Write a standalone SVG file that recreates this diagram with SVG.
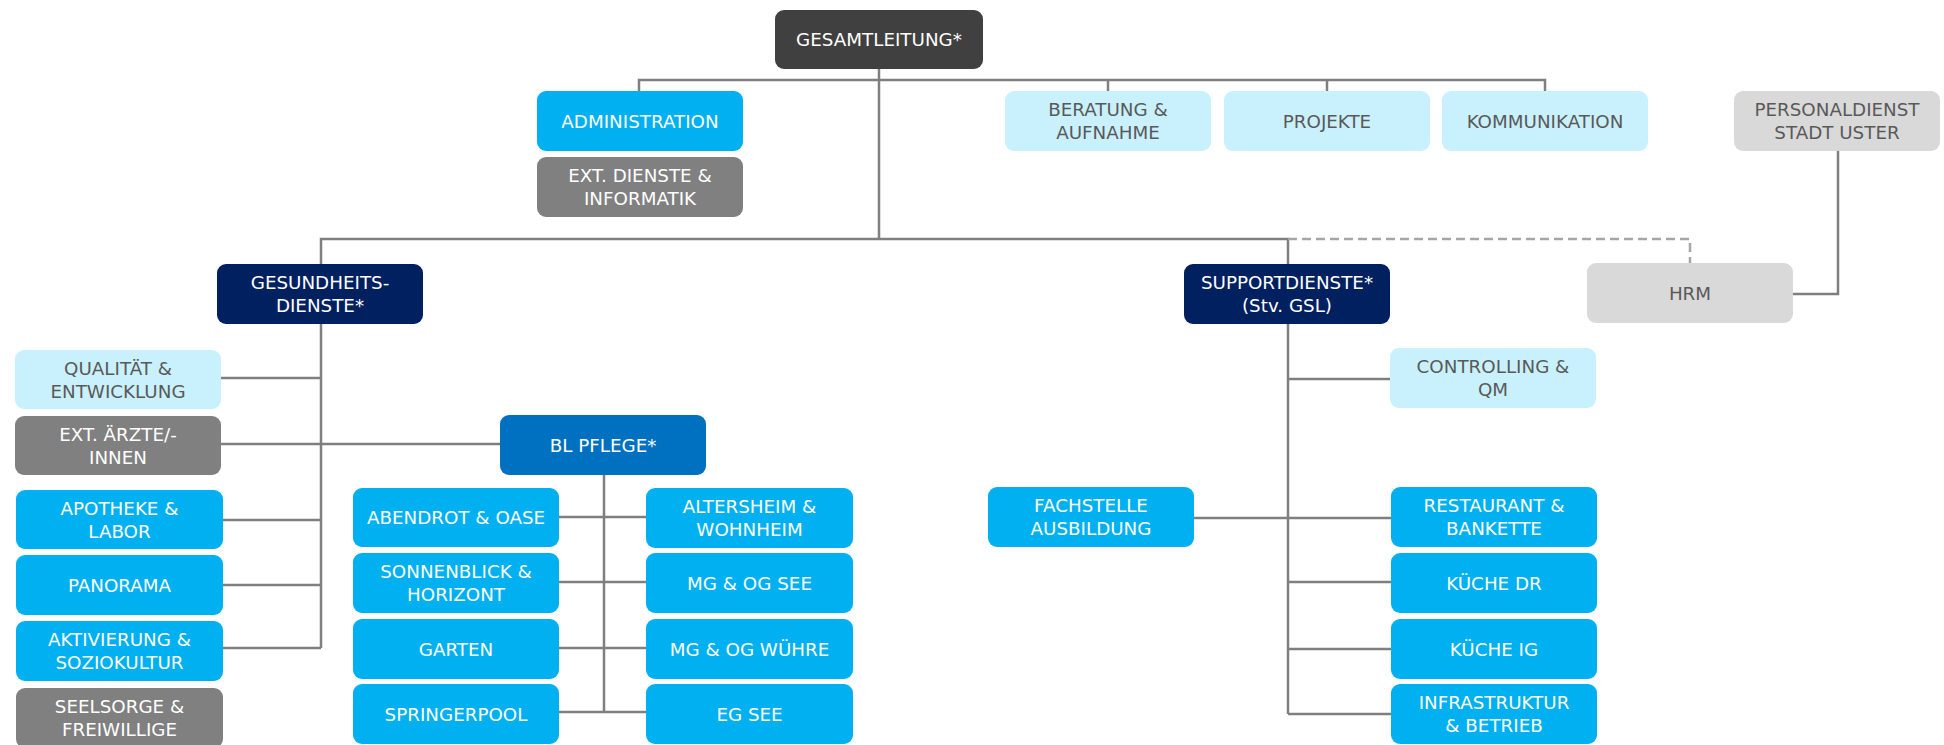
<svg xmlns="http://www.w3.org/2000/svg" width="1944" height="745" viewBox="0 0 1944 745">
<style>
  .box rect { rx: 9px; ry: 9px; }
  .dark rect { fill: #404040; }
  .navy rect { fill: #002060; }
  .blue rect { fill: #0070C0; }
  .cyan rect { fill: #00B0F0; }
  .gray rect { fill: #808080; }
  .light rect { fill: #C9F1FD; }
  .lgray rect { fill: #D9D9D9; }
  text { font-family: "DejaVu Sans", Verdana, sans-serif; font-size: 18.3px; text-anchor: middle; }
  .dark text, .navy text, .blue text, .cyan text, .gray text { fill: #FFFFFF; }
  .light text, .lgray text { fill: #595959; }
  .conn path { fill: none; stroke: #7F7F7F; stroke-width: 2.5; }
  .conn path.dash { stroke: #A6A6A6; stroke-dasharray: 9 5; }
</style>
<rect width="1944" height="745" fill="#FFFFFF"/>
<g class="conn" id="connectors">
  <path d="M879 69 V239"/>
  <path d="M639 91 V80 H1545 V91 M1108 80 V91 M1327 80 V91"/>
  <path d="M321 264 V239 H1288 V264"/>
  <path class="dash" d="M1288 239 H1690 V263"/>
  <path d="M1838 151 V294 H1793"/>
  <path d="M321 324 V648 M221 378 H321 M221 444 H500 M223 520 H321 M223 585 H321 M223 648 H321"/>
  <path d="M604 475 V712 M559 517 H646 M559 582 H646 M559 648 H646 M559 712 H646"/>
  <path d="M1288 324 V714 M1288 379 H1390 M1194 518 H1391 M1288 582 H1391 M1288 649 H1391 M1288 714 H1391"/>
</g>
<g id="gesamtleitung" class="box dark"><rect x="775" y="10" width="208" height="59"/><text x="879" y="46">GESAMTLEITUNG*</text></g>
<g id="administration" class="box cyan"><rect x="537" y="91" width="206" height="60"/><text x="640" y="127.5">ADMINISTRATION</text></g>
<g id="ext-dienste" class="box gray"><rect x="537" y="157" width="206" height="60"/><text x="640" y="182">EXT. DIENSTE &amp;</text><text x="640" y="205">INFORMATIK</text></g>
<g id="beratung" class="box light"><rect x="1005" y="91" width="206" height="60"/><text x="1108" y="116">BERATUNG &amp;</text><text x="1108" y="139">AUFNAHME</text></g>
<g id="projekte" class="box light"><rect x="1224" y="91" width="206" height="60"/><text x="1327" y="127.5">PROJEKTE</text></g>
<g id="kommunikation" class="box light"><rect x="1442" y="91" width="206" height="60"/><text x="1545" y="127.5">KOMMUNIKATION</text></g>
<g id="personaldienst" class="box lgray"><rect x="1734" y="91" width="206" height="60"/><text x="1837" y="116">PERSONALDIENST</text><text x="1837" y="139">STADT USTER</text></g>
<g id="gesundheitsdienste" class="box navy"><rect x="217" y="264" width="206" height="60"/><text x="320" y="289">GESUNDHEITS-</text><text x="320" y="312">DIENSTE*</text></g>
<g id="supportdienste" class="box navy"><rect x="1184" y="264" width="206" height="60"/><text x="1287" y="289">SUPPORTDIENSTE*</text><text x="1287" y="312">(Stv. GSL)</text></g>
<g id="hrm" class="box lgray"><rect x="1587" y="263" width="206" height="60"/><text x="1690" y="299.5">HRM</text></g>
<g id="qualitaet" class="box light"><rect x="15" y="350" width="206" height="59"/><text x="118" y="374.5">QUALITÄT &amp;</text><text x="118" y="397.5">ENTWICKLUNG</text></g>
<g id="ext-aerzte" class="box gray"><rect x="15" y="416" width="206" height="59"/><text x="118" y="440.5">EXT. ÄRZTE/-</text><text x="118" y="463.5">INNEN</text></g>
<g id="apotheke" class="box cyan"><rect x="16" y="490" width="207" height="59"/><text x="119.5" y="514.5">APOTHEKE &amp;</text><text x="119.5" y="537.5">LABOR</text></g>
<g id="panorama" class="box cyan"><rect x="16" y="555" width="207" height="60"/><text x="119.5" y="591.5">PANORAMA</text></g>
<g id="aktivierung" class="box cyan"><rect x="16" y="621" width="207" height="60"/><text x="119.5" y="646">AKTIVIERUNG &amp;</text><text x="119.5" y="669">SOZIOKULTUR</text></g>
<g id="seelsorge" class="box gray"><rect x="16" y="688" width="207" height="60"/><text x="119.5" y="713">SEELSORGE &amp;</text><text x="119.5" y="736">FREIWILLIGE</text></g>
<g id="bl-pflege" class="box blue"><rect x="500" y="415" width="206" height="60"/><text x="603" y="451.5">BL PFLEGE*</text></g>
<g id="abendrot" class="box cyan"><rect x="353" y="488" width="206" height="59"/><text x="456" y="524">ABENDROT &amp; OASE</text></g>
<g id="sonnenblick" class="box cyan"><rect x="353" y="553" width="206" height="60"/><text x="456" y="578">SONNENBLICK &amp;</text><text x="456" y="601">HORIZONT</text></g>
<g id="garten" class="box cyan"><rect x="353" y="619" width="206" height="60"/><text x="456" y="655.5">GARTEN</text></g>
<g id="springerpool" class="box cyan"><rect x="353" y="684" width="206" height="60"/><text x="456" y="720.5">SPRINGERPOOL</text></g>
<g id="altersheim" class="box cyan"><rect x="646" y="488" width="207" height="60"/><text x="749.5" y="513">ALTERSHEIM &amp;</text><text x="749.5" y="536">WOHNHEIM</text></g>
<g id="mg-og-see" class="box cyan"><rect x="646" y="553" width="207" height="60"/><text x="749.5" y="589.5">MG &amp; OG SEE</text></g>
<g id="mg-og-wuehre" class="box cyan"><rect x="646" y="619" width="207" height="60"/><text x="749.5" y="655.5">MG &amp; OG WÜHRE</text></g>
<g id="eg-see" class="box cyan"><rect x="646" y="684" width="207" height="60"/><text x="749.5" y="720.5">EG SEE</text></g>
<g id="controlling" class="box light"><rect x="1390" y="348" width="206" height="60"/><text x="1493" y="373">CONTROLLING &amp;</text><text x="1493" y="396">QM</text></g>
<g id="fachstelle" class="box cyan"><rect x="988" y="487" width="206" height="60"/><text x="1091" y="512">FACHSTELLE</text><text x="1091" y="535">AUSBILDUNG</text></g>
<g id="restaurant" class="box cyan"><rect x="1391" y="487" width="206" height="60"/><text x="1494" y="512">RESTAURANT &amp;</text><text x="1494" y="535">BANKETTE</text></g>
<g id="kueche-dr" class="box cyan"><rect x="1391" y="553" width="206" height="60"/><text x="1494" y="589.5">KÜCHE DR</text></g>
<g id="kueche-ig" class="box cyan"><rect x="1391" y="619" width="206" height="60"/><text x="1494" y="655.5">KÜCHE IG</text></g>
<g id="infrastruktur" class="box cyan"><rect x="1391" y="684" width="206" height="60"/><text x="1494" y="709">INFRASTRUKTUR</text><text x="1494" y="732">&amp; BETRIEB</text></g>
</svg>
